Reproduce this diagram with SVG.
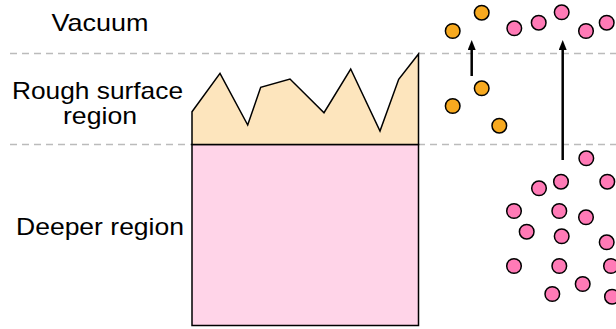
<svg xmlns="http://www.w3.org/2000/svg" width="616" height="329" viewBox="0 0 616 329">
<style>
.lbl{font-family:"Liberation Sans",Arial,sans-serif;font-size:24px;fill:#000;text-anchor:middle}
.dash{stroke:#bbb;stroke-width:1.3;stroke-dasharray:7,5;fill:none}
.or{fill:#f7a91f;stroke:#000;stroke-width:1.5}
.pk{fill:#ff7ab6;stroke:#000;stroke-width:1.5}
.arr{stroke:#000;stroke-width:2.5;fill:none;marker-end:url(#ah)}
</style>
<defs>
<marker id="ah" markerWidth="10" markerHeight="8" refX="5" refY="4" orient="auto" markerUnits="userSpaceOnUse" viewBox="0 0 10 8">
<path d="M0,0 L10,4 L0,8 Z" fill="#000"/>
</marker>
</defs>
<rect width="616" height="329" fill="#fff"/>
<g id="guides">
<line class="dash" x1="10" y1="53.5" x2="616" y2="53.5"/>
<line class="dash" x1="10" y1="144.5" x2="616" y2="144.5"/>
</g>
<g id="labels">
<text class="lbl" x="100" y="31" textLength="97" lengthAdjust="spacingAndGlyphs">Vacuum</text>
<text class="lbl" x="97.5" y="99" textLength="171" lengthAdjust="spacingAndGlyphs">Rough surface</text>
<text class="lbl" x="100" y="124" textLength="74" lengthAdjust="spacingAndGlyphs">region</text>
<text class="lbl" x="100" y="235" textLength="168" lengthAdjust="spacingAndGlyphs">Deeper region</text>
</g>
<g id="deeper-region">
<rect x="192" y="144.5" width="226.5" height="181" fill="#ffd4e8" stroke="#000" stroke-width="1.5"/>
</g>
<g id="rough-surface">
<polygon points="192,111.7 220,73.3 247.7,125 260.7,87.3 290,79 324,112.7 350.7,69 380,131 398.7,79.3 418.5,54 418.5,144.5 192,144.5" fill="#fde5bd" stroke="#000" stroke-width="1.5" stroke-linejoin="miter"/>
</g>
<g id="connectors">
<line class="arr" x1="471.7" y1="76" x2="471.7" y2="45"/>
<line class="arr" x1="562.7" y1="160" x2="562.7" y2="45"/>
</g>
<g id="orange-particles">
<circle class="or" cx="452.7" cy="31" r="7.3"/>
<circle class="or" cx="481.7" cy="12.7" r="7.3"/>
<circle class="or" cx="481.7" cy="88.3" r="7.3"/>
<circle class="or" cx="452.7" cy="106" r="7.3"/>
<circle class="or" cx="499.3" cy="125.7" r="7.3"/>
</g>
<g id="pink-particles">
<circle class="pk" cx="514.3" cy="28.3" r="7.3"/>
<circle class="pk" cx="538.7" cy="22.7" r="7.3"/>
<circle class="pk" cx="561.7" cy="12.3" r="7.3"/>
<circle class="pk" cx="586" cy="31" r="7.3"/>
<circle class="pk" cx="606.7" cy="22.7" r="7.3"/>
<circle class="pk" cx="586.3" cy="158.3" r="7.3"/>
<circle class="pk" cx="561" cy="181.7" r="7.3"/>
<circle class="pk" cx="539" cy="188.3" r="7.3"/>
<circle class="pk" cx="607.3" cy="181.7" r="7.3"/>
<circle class="pk" cx="514" cy="211" r="7.3"/>
<circle class="pk" cx="559.3" cy="211" r="7.3"/>
<circle class="pk" cx="586" cy="217.3" r="7.3"/>
<circle class="pk" cx="526.7" cy="231.7" r="7.3"/>
<circle class="pk" cx="561.7" cy="236.3" r="7.3"/>
<circle class="pk" cx="606.7" cy="242.3" r="7.3"/>
<circle class="pk" cx="514" cy="266" r="7.3"/>
<circle class="pk" cx="559.3" cy="266" r="7.3"/>
<circle class="pk" cx="611" cy="266" r="7.3"/>
<circle class="pk" cx="582.7" cy="284" r="7.3"/>
<circle class="pk" cx="552.3" cy="294" r="7.3"/>
<circle class="pk" cx="612" cy="296.7" r="7.3"/>
</g>
</svg>
